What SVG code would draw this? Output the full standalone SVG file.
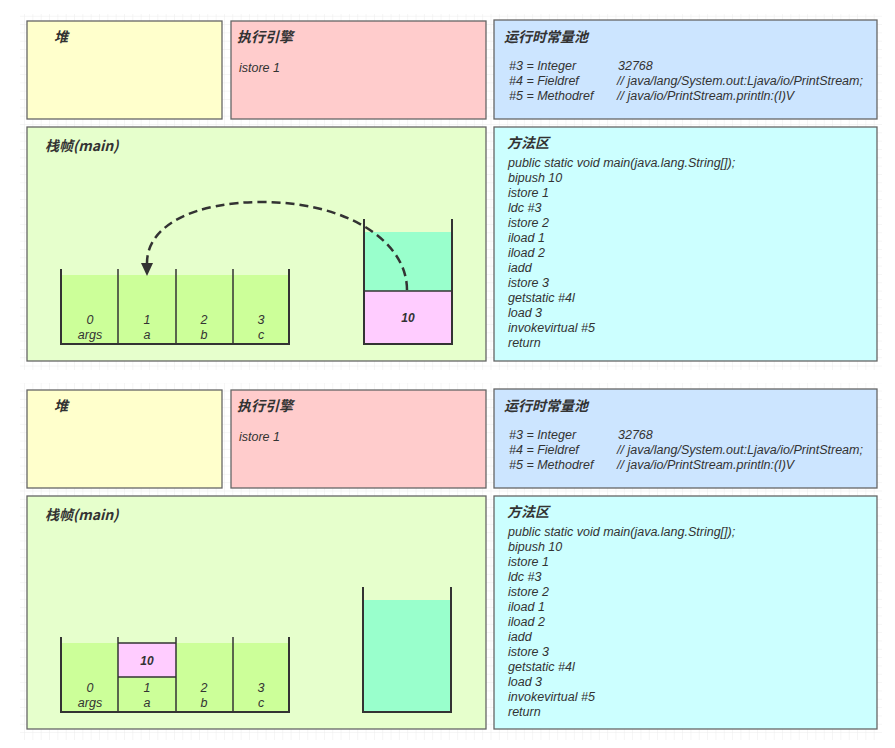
<svg xmlns="http://www.w3.org/2000/svg" width="895" height="748" viewBox="0 0 895 748">
<style>
.box{stroke:#666;stroke-width:1.3}
.t{font-family:"Noto Sans CJK SC","Noto Sans",sans-serif;font-size:14px;font-weight:bold;font-style:italic;fill:#333}
.b{font-family:"Liberation Sans","Noto Sans CJK SC",sans-serif;font-size:12.5px;font-style:italic;fill:#333}
.n{font-family:"Liberation Sans","Noto Sans CJK SC",sans-serif;font-size:12px;font-style:italic;font-weight:bold;fill:#333}
.wall{fill:none;stroke:#333;stroke-width:2}
.sep{stroke:#333;stroke-width:1.5}
.edge{fill:none;stroke:#333;stroke-width:2.5;stroke-dasharray:9,5}
</style>
<defs>
<pattern id="grid" width="8.33" height="8.33" patternUnits="userSpaceOnUse">
<path d="M8.33 0V8.33M0 8.33H8.33" fill="none" stroke="#ececec" stroke-width="1"/>
</pattern>
<marker id="arr" markerWidth="14" markerHeight="12" refX="0" refY="6" orient="auto" markerUnits="userSpaceOnUse" viewBox="0 0 14 12">
<path d="M0 0L13 6L0 12Z" fill="#333"/>
</marker>
</defs>
<rect width="895" height="748" fill="#fff"/>
<rect x="20" y="14" width="862" height="356" fill="url(#grid)"/>
<rect x="20" y="383" width="862" height="357" fill="url(#grid)"/>

<!-- ===== Top panel ===== -->
<g id="heap1"><rect class="box" x="27" y="21" width="195" height="98" fill="#FFFFCC"/><text class="t" x="54" y="42">堆</text></g>
<g id="engine1"><rect class="box" x="231" y="21" width="255" height="98" fill="#FFCCCC"/><text class="t" x="237" y="42">执行引擎</text><text class="b" x="239" y="72">istore 1</text></g>
<g id="pool1"><rect class="box" x="494" y="20" width="383" height="99" fill="#CCE5FF"/><text class="t" x="504" y="42">运行时常量池</text>
<text class="b" x="509" y="70">#3 = Integer</text><text class="b" x="618" y="70">32768</text>
<text class="b" x="509" y="85">#4 = Fieldref</text><text class="b" x="617" y="85">// java/lang/System.out:Ljava/io/PrintStream;</text>
<text class="b" x="509" y="100">#5 = Methodref</text><text class="b" x="617" y="100">// java/io/PrintStream.println:(I)V</text></g>
<g id="frame1"><rect class="box" x="27" y="127" width="459" height="234" fill="#E6FFCC"/><text class="t" x="45" y="151">栈帧(main)</text></g>
<g id="method1"><rect class="box" x="494" y="127" width="383" height="234" fill="#CCFFFF"/><text class="t" x="507" y="148">方法区</text>
<text class="b" x="508" y="167">public static void main(java.lang.String[]);</text>
<text class="b" x="508" y="182">bipush 10</text>
<text class="b" x="508" y="197">istore 1</text>
<text class="b" x="508" y="212">ldc #3</text>
<text class="b" x="508" y="227">istore 2</text>
<text class="b" x="508" y="242">iload 1</text>
<text class="b" x="508" y="257">iload 2</text>
<text class="b" x="508" y="272">iadd</text>
<text class="b" x="508" y="287">istore 3</text>
<text class="b" x="508" y="302">getstatic #4l</text>
<text class="b" x="508" y="317">load 3</text>
<text class="b" x="508" y="332">invokevirtual #5</text>
<text class="b" x="508" y="347">return</text></g>
<g id="locals1">
<rect x="61" y="275" width="228" height="69" fill="#CCFF99"/>
<line class="sep" x1="118" y1="269" x2="118" y2="344"/><line class="sep" x1="176" y1="269" x2="176" y2="344"/><line class="sep" x1="233" y1="269" x2="233" y2="344"/>
<path class="wall" d="M61 269V344H289V269"/>
<g class="b" text-anchor="middle">
<text x="90" y="324">0</text><text x="90" y="339">args</text>
<text x="147" y="324">1</text><text x="147" y="339">a</text>
<text x="204" y="324">2</text><text x="204" y="339">b</text>
<text x="261" y="324">3</text><text x="261" y="339">c</text></g>
</g>
<g id="stack1">
<rect x="364" y="232" width="88" height="59" fill="#99FFCC"/>
<rect x="364" y="291" width="88" height="53" fill="#FFCCFF"/>
<line class="sep" x1="364" y1="291" x2="452" y2="291"/>
<path class="wall" d="M364 219V344H452V219"/>
<text class="n" x="408" y="322" text-anchor="middle">10</text>
</g>

<!-- ===== Bottom panel ===== -->
<g id="heap2"><rect class="box" x="27" y="390" width="195" height="98" fill="#FFFFCC"/><text class="t" x="54" y="411">堆</text></g>
<g id="engine2"><rect class="box" x="231" y="390" width="255" height="98" fill="#FFCCCC"/><text class="t" x="237" y="411">执行引擎</text><text class="b" x="239" y="441">istore 1</text></g>
<g id="pool2"><rect class="box" x="494" y="389" width="383" height="99" fill="#CCE5FF"/><text class="t" x="504" y="411">运行时常量池</text>
<text class="b" x="509" y="439">#3 = Integer</text><text class="b" x="618" y="439">32768</text>
<text class="b" x="509" y="454">#4 = Fieldref</text><text class="b" x="617" y="454">// java/lang/System.out:Ljava/io/PrintStream;</text>
<text class="b" x="509" y="469">#5 = Methodref</text><text class="b" x="617" y="469">// java/io/PrintStream.println:(I)V</text></g>
<g id="frame2"><rect class="box" x="27" y="496" width="459" height="233" fill="#E6FFCC"/><text class="t" x="45" y="520">栈帧(main)</text></g>
<g id="method2"><rect class="box" x="494" y="496" width="383" height="233" fill="#CCFFFF"/><text class="t" x="507" y="517">方法区</text>
<text class="b" x="508" y="536">public static void main(java.lang.String[]);</text>
<text class="b" x="508" y="551">bipush 10</text>
<text class="b" x="508" y="566">istore 1</text>
<text class="b" x="508" y="581">ldc #3</text>
<text class="b" x="508" y="596">istore 2</text>
<text class="b" x="508" y="611">iload 1</text>
<text class="b" x="508" y="626">iload 2</text>
<text class="b" x="508" y="641">iadd</text>
<text class="b" x="508" y="656">istore 3</text>
<text class="b" x="508" y="671">getstatic #4l</text>
<text class="b" x="508" y="686">load 3</text>
<text class="b" x="508" y="701">invokevirtual #5</text>
<text class="b" x="508" y="716">return</text></g>
<g id="locals2">
<rect x="61" y="643" width="228" height="69" fill="#CCFF99"/>
<rect x="118" y="643" width="58" height="34" fill="#FFCCFF"/>
<path class="sep" fill="none" d="M118 643H176M118 677H176"/>
<line class="sep" x1="118" y1="637" x2="118" y2="712"/><line class="sep" x1="176" y1="637" x2="176" y2="712"/><line class="sep" x1="233" y1="637" x2="233" y2="712"/>
<path class="wall" d="M61 637V712H289V637"/>
<text class="n" x="147" y="665" text-anchor="middle">10</text>
<g class="b" text-anchor="middle">
<text x="90" y="692">0</text><text x="90" y="707">args</text>
<text x="147" y="692">1</text><text x="147" y="707">a</text>
<text x="204" y="692">2</text><text x="204" y="707">b</text>
<text x="261" y="692">3</text><text x="261" y="707">c</text></g>
</g>
<g id="stack2">
<rect x="363" y="600" width="88" height="112" fill="#99FFCC"/>
<path class="wall" d="M363 587V712H451V587"/>
</g>

<g id="connectors">
<path class="edge" d="M407 290C407 240 345 202 262 202C195 202 147 225 147 263" marker-end="url(#arr)"/>
</g>
</svg>
